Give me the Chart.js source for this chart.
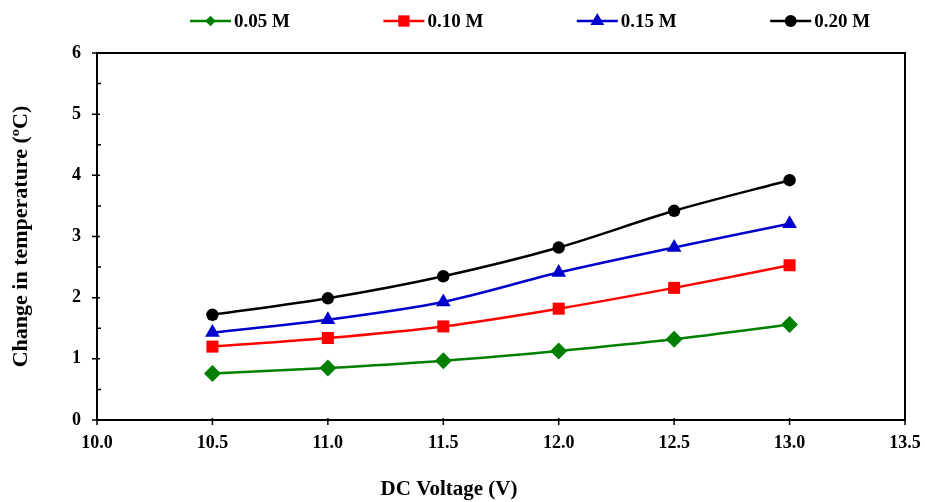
<!DOCTYPE html>
<html><head><meta charset="utf-8">
<script src="https://cdn.jsdelivr.net/npm/chart.js@4"></script>
<style>html,body{margin:0;padding:0;background:#fff}#wrap{width:925px;height:502px}</style>
</head><body><div id="wrap"><canvas id="c" width="925" height="502"></canvas></div>
<script>
const voltages = [10.5, 11.0, 11.5, 12.0, 12.5, 13.0];
const series005 = [0.76, 0.85, 0.97, 1.13, 1.32, 1.56];
const series010 = [1.20, 1.34, 1.53, 1.82, 2.16, 2.53];
const series015 = [1.43, 1.64, 1.93, 2.41, 2.82, 3.21];
const series020 = [1.72, 1.99, 2.35, 2.82, 3.42, 3.92];
const seriesLabels = ['0.05 M', '0.10 M', '0.15 M', '0.20 M'];
const xTickValues = [10.0, 10.5, 11.0, 11.5, 12.0, 12.5, 13.0, 13.5];
const yTickValues = [0, 1, 2, 3, 4, 5, 6];
const xTitle = 'DC Voltage (V)';
const yTitle = 'Change in temperature (\u00BAC)';

const FONT = '"Liberation Serif", "Times New Roman", serif';
const styles = [
  {color: '#008000', pointStyle: 'rectRot', radius: 8.5, legendRadius: 7.5},
  {color: '#ff0000', pointStyle: 'rect', radius: 8.5, legendRadius: 8},
  {color: '#0000cc', pointStyle: 'triangle', radius: 8.5, legendRadius: 8},
  {color: '#000000', pointStyle: 'circle', radius: 6.2, legendRadius: 6}
];
const allSeries = [series005, series010, series015, series020];

const datasets = allSeries.map((vals, i) => ({
  label: seriesLabels[i],
  data: voltages.map((v, j) => ({x: v, y: vals[j]})),
  borderColor: styles[i].color,
  backgroundColor: styles[i].color,
  pointBackgroundColor: styles[i].color,
  pointBorderColor: styles[i].color,
  pointBorderWidth: 0,
  pointStyle: styles[i].pointStyle,
  pointRadius: styles[i].radius,
  borderWidth: 2.5,
  tension: 0.3,
  fill: false
}));

function drawMarker(ctx, style, r, x, y, color) {
  ctx.save();
  ctx.fillStyle = color;
  ctx.beginPath();
  if (style === 'circle') {
    ctx.arc(x, y, r, 0, Math.PI * 2);
  } else if (style === 'rect') {
    const s = r * Math.SQRT1_2;
    ctx.rect(x - s, y - s, 2 * s, 2 * s);
  } else if (style === 'rectRot') {
    const s = r * Math.SQRT1_2;
    ctx.moveTo(x - s, y); ctx.lineTo(x, y + s); ctx.lineTo(x + s, y); ctx.lineTo(x, y - s);
  } else if (style === 'triangle') {
    ctx.moveTo(x, y - r);
    ctx.lineTo(x + Math.sin(2 * Math.PI / 3) * r, y - Math.cos(2 * Math.PI / 3) * r);
    ctx.lineTo(x + Math.sin(4 * Math.PI / 3) * r, y - Math.cos(4 * Math.PI / 3) * r);
  }
  ctx.closePath();
  ctx.fill();
  ctx.restore();
}

const framePlugin = {
  id: 'frame',
  afterDraw(chart) {
    const ctx = chart.ctx;
    const a = chart.chartArea;
    const xs = chart.scales.x, ys = chart.scales.y;
    ctx.save();
    ctx.strokeStyle = '#000';
    ctx.lineWidth = 2;
    ctx.beginPath();
    ctx.moveTo(a.left, a.bottom); ctx.lineTo(a.left, a.top); ctx.lineTo(a.right, a.top);
    ctx.lineTo(a.right, a.bottom); ctx.lineTo(a.left, a.bottom);
    ctx.stroke();
    ctx.lineWidth = 1.5;
    ctx.beginPath();
    yTickValues.forEach(v => {
      const py = ys.getPixelForValue(v);
      ctx.moveTo(a.left - 5, py); ctx.lineTo(a.left + 3, py);
      if (v < 6) {
        const pm = ys.getPixelForValue(v + 0.5);
        ctx.moveTo(a.left, pm); ctx.lineTo(a.left + 4, pm);
      }
    });
    xTickValues.forEach(v => {
      const px = xs.getPixelForValue(v);
      ctx.moveTo(px, a.bottom - 2); ctx.lineTo(px, a.bottom + 5);
    });
    ctx.stroke();

    // x axis title
    ctx.fillStyle = '#000';
    ctx.font = 'bold 21px ' + FONT;
    ctx.textAlign = 'center';
    ctx.textBaseline = 'middle';
    ctx.fillText(xTitle, 449, 490);

    // legend
    const ly = 21;
    const startX = 190, spacing = 193.4, lineLen = 41;
    ctx.font = 'bold 19px ' + FONT;
    ctx.textBaseline = 'middle';
    ctx.textAlign = 'left';
    chart.data.datasets.forEach((ds, i) => {
      const x0 = startX + i * spacing;
      ctx.strokeStyle = styles[i].color;
      ctx.lineWidth = 2.5;
      ctx.beginPath(); ctx.moveTo(x0, ly); ctx.lineTo(x0 + lineLen, ly); ctx.stroke();
      drawMarker(ctx, styles[i].pointStyle, styles[i].legendRadius, x0 + lineLen / 2, ly, styles[i].color);
      ctx.fillStyle = '#000';
      ctx.fillText(ds.label, x0 + lineLen + 3, ly + 1);
    });
    ctx.restore();
  }
};

new Chart(document.getElementById('c'), {
  type: 'line',
  data: {datasets},
  options: {
    responsive: false,
    animation: false,
    layout: {padding: {left: 0, right: 20, top: 53, bottom: 0}},
    plugins: {legend: {display: false}, tooltip: {enabled: false}},
    scales: {
      x: {
        type: 'linear', min: 10, max: 13.5,
        afterFit: s => { s.height = 82; s.paddingLeft = 0; s.paddingRight = 0; },
        afterBuildTicks: s => { s.ticks = xTickValues.map(v => ({value: v})); },
        grid: {display: false, drawTicks: false},
        border: {display: false},
        ticks: {
          autoSkip: false, maxRotation: 0, padding: 13, color: '#000',
          font: {family: FONT, size: 18, weight: 'bold'},
          callback: v => Number(v).toFixed(1)
        },
        title: {display: false, text: xTitle}
      },
      y: {
        min: 0, max: 6,
        afterFit: s => { s.width = 97; s.paddingTop = 0; s.paddingBottom = 0; },
        afterBuildTicks: s => { s.ticks = yTickValues.map(v => ({value: v})); },
        grid: {display: false, drawTicks: false},
        border: {display: false},
        ticks: {
          padding: 16, color: '#000',
          font: {family: FONT, size: 18, weight: 'bold'}
        },
        title: {display: true, text: yTitle, color: '#000', padding: {top: 8, bottom: 0},
          font: {family: FONT, size: 22, weight: 'bold'}}
      }
    }
  },
  plugins: [framePlugin]
});
</script>
</body></html>
